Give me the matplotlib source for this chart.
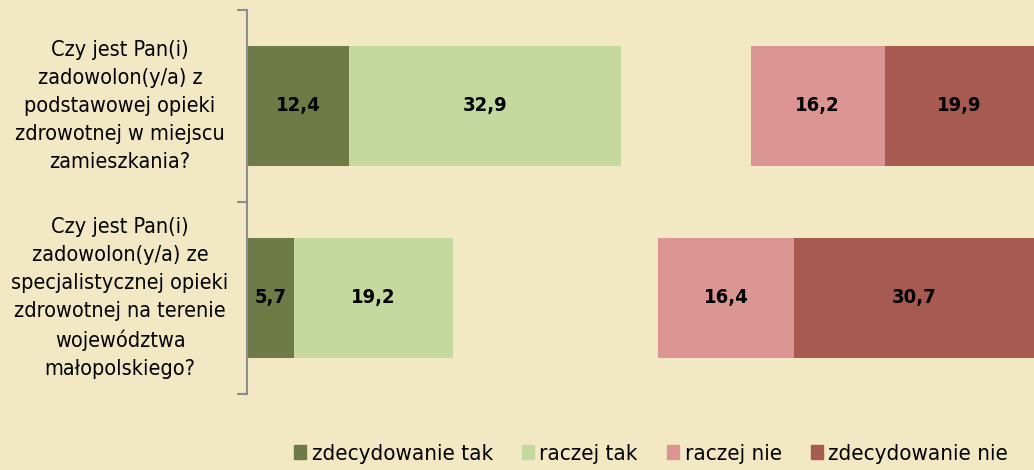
import matplotlib.pyplot as plt
import matplotlib.patches as mpatches
from matplotlib.transforms import blended_transform_factory

# Dane
pytania = [
    "Czy jest Pan(i)\nzadowolon(y/a) z\npodstawowej opieki\nzdrowotnej w miejscu\nzamieszkania?",
    "Czy jest Pan(i)\nzadowolon(y/a) ze\nspecjalistycznej opieki\nzdrowotnej na terenie\nwojewództwa\nmałopolskiego?",
]
zdecydowanie_tak = [12.4, 5.7]
raczej_tak = [32.9, 19.2]
trudno_powiedziec = [15.7, 24.9]  # niewidoczna część słupka
raczej_nie = [16.2, 16.4]
zdecydowanie_nie = [19.9, 30.7]

serie = [
    ('zdecydowanie tak', zdecydowanie_tak, '#6e7b46'),
    ('raczej tak', raczej_tak, '#c5d89e'),
    (None, trudno_powiedziec, 'none'),
    ('raczej nie', raczej_nie, '#db9593'),
    ('zdecydowanie nie', zdecydowanie_nie, '#a65a52'),
]

tlo = '#f2e9c4'
narrow = ['Liberation Sans Narrow', 'DejaVu Sans']

fig = plt.figure(figsize=(10.34, 4.70), dpi=100, facecolor=tlo)
ax = fig.add_axes([247 / 1034, 1 - 394 / 470, 1 - 247 / 1034, 384 / 470])
ax.set_facecolor(tlo)

y = list(range(len(pytania)))
left = [0.0] * len(pytania)
handles = []
for nazwa, wartosci, kolor in serie:
    bars = ax.barh(y, wartosci, left=left, height=0.625, color=kolor, edgecolor='none')
    if nazwa is not None:
        etykiety = [f"{v:.1f}".replace('.', ',') for v in wartosci]
        ax.bar_label(bars, labels=etykiety, label_type='center', fontsize=14.5,
                     fontweight='bold', family=narrow, fontstretch='condensed', color='black')
        handles.append(mpatches.Patch(color=kolor, label=nazwa))
    left = [a + b for a, b in zip(left, wartosci)]

ax.set_xlim(0, 787 / 8.26)
ax.set_ylim(1.5, -0.5)
ax.set_xticks([])
ax.set_yticks([])
ax.set_yticks([-0.5, 0.5, 1.5], minor=True)
ax.tick_params(axis='y', which='minor', length=7, width=1.5, color='#8c8c8c')
ax.tick_params(axis='y', which='minor', labelleft=False)
for s in ['top', 'right', 'bottom']:
    ax.spines[s].set_visible(False)
ax.spines['left'].set_color('#8c8c8c')
ax.spines['left'].set_linewidth(1.5)

# Etykiety pytań
tr = blended_transform_factory(fig.transFigure, ax.transData)
for i, tekst in enumerate(pytania):
    ax.text(120 / 1034, i, tekst, transform=tr, ha='center', va='center',
            fontsize=15.5, family=narrow, fontstretch='condensed', linespacing=1.5, color='black')

# Legenda
fig.legend(handles=handles, loc='center', bbox_to_anchor=(651 / 1034, 1 - 454 / 470),
           ncol=4, frameon=False, handlelength=0.55, handleheight=0.55,
           handletextpad=0.25, columnspacing=1.3,
           prop={'family': narrow, 'size': 16, 'stretch': 'condensed'})

plt.savefig('out.png', facecolor=tlo)
